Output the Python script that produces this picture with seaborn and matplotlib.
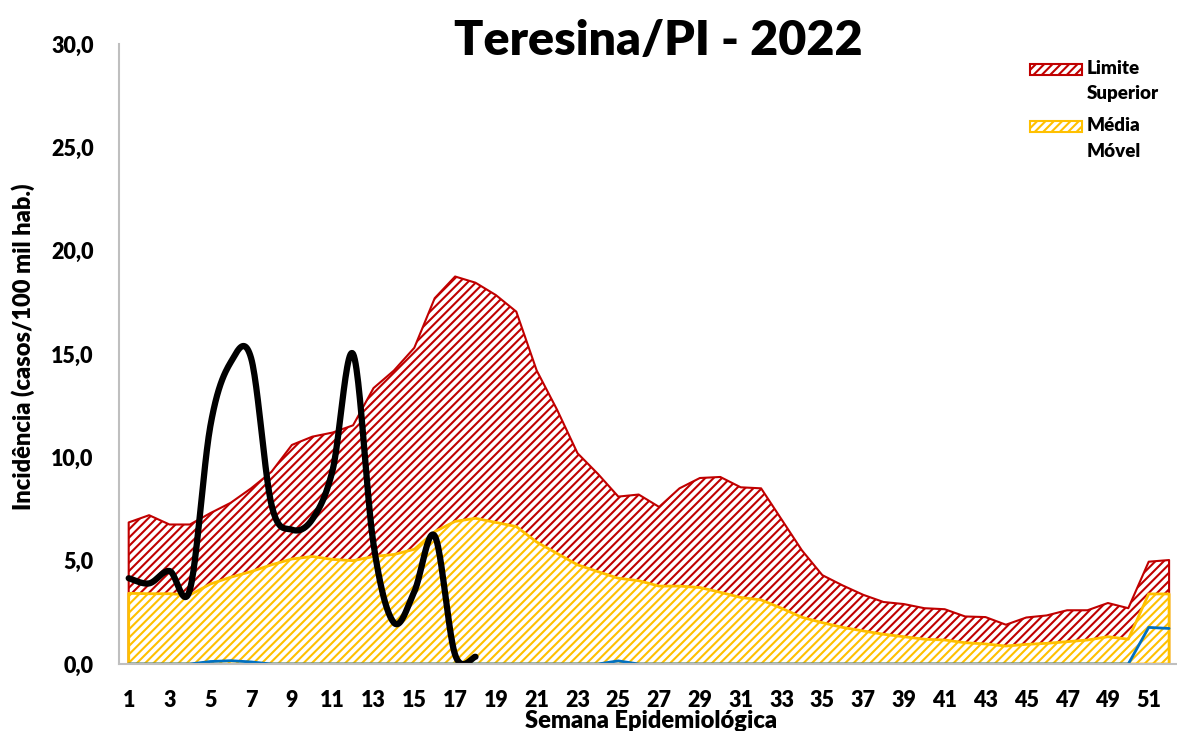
import numpy as np
import pandas as pd
import seaborn as sns
import matplotlib.pyplot as plt
from matplotlib.patches import Patch, Rectangle
from matplotlib.legend_handler import HandlerPatch

weeks = list(range(1, 53))
limite_superior = [6.85, 7.2, 6.75, 6.75, 7.3, 7.8, 8.5, 9.3, 10.6, 11.0,
                   11.2, 11.55, 13.35, 14.2, 15.3, 17.7, 18.75, 18.45, 17.85, 17.05,
                   14.2, 12.3, 10.2, 9.2, 8.1, 8.2, 7.6, 8.5, 9.0, 9.05,
                   8.55, 8.5, 7.0, 5.5, 4.3, 3.8, 3.35, 3.0, 2.9, 2.7,
                   2.65, 2.3, 2.27, 1.9, 2.25, 2.35, 2.6, 2.6, 2.95, 2.7,
                   4.95, 5.03]
media_movel = [3.42, 3.4, 3.4, 3.34, 3.87, 4.2, 4.47, 4.8, 5.08, 5.2,
               5.06, 5.0, 5.2, 5.3, 5.55, 6.4, 6.9, 7.05, 6.85, 6.65,
               5.9, 5.35, 4.8, 4.47, 4.15, 4.03, 3.77, 3.77, 3.7, 3.47,
               3.22, 3.1, 2.7, 2.26, 2.0, 1.77, 1.6, 1.44, 1.32, 1.2,
               1.16, 1.03, 0.97, 0.87, 0.95, 1.0, 1.08, 1.16, 1.32, 1.2,
               3.39, 3.39]
serie_azul = [0.0, 0.0, 0.0, 0.0, 0.12, 0.16, 0.1, 0.0, 0.0, 0.0,
              0.0, 0.0, 0.0, 0.0, 0.0, 0.0, 0.0, 0.0, 0.0, 0.0,
              0.0, 0.0, 0.0, 0.0, 0.15, 0.0, 0.0, 0.0, 0.0, 0.0,
              0.0, 0.0, 0.0, 0.0, 0.0, 0.0, 0.0, 0.0, 0.0, 0.0,
              0.0, 0.0, 0.0, 0.0, 0.0, 0.0, 0.0, 0.0, 0.0, 0.0,
              1.77, 1.72]
weeks_2022 = list(range(1, 19))
casos_2022 = [4.15, 3.9, 4.5, 3.6, 11.5, 14.6, 14.8, 7.7, 6.5, 7.0,
              9.4, 15.0, 5.8, 2.0, 3.5, 6.2, 0.45, 0.35]

ytick_vals = [0, 5, 10, 15, 20, 25, 30]
ytick_labels = ['0,0', '5,0', '10,0', '15,0', '20,0', '25,0', '30,0']
xtick_vals = list(range(1, 53, 2))

RED = '#C00000'
YELLOW = '#FFC000'
BLUE = '#0070C0'
GRAY = '#BFBFBF'


def smooth(x, y, n=24):
    # Excel-like smoothed line (Catmull-Rom bezier through the points)
    p = np.column_stack([x, y]).astype(float)
    out = []
    for i in range(len(p) - 1):
        p0 = p[max(i - 1, 0)]
        p1, p2 = p[i], p[i + 1]
        p3 = p[min(i + 2, len(p) - 1)]
        c1 = p1 + (p2 - p0) / 6
        c2 = p2 - (p3 - p1) / 6
        t = np.linspace(0, 1, n, endpoint=False)[:, None]
        seg = ((1 - t) ** 3) * p1 + 3 * ((1 - t) ** 2) * t * c1 + 3 * (1 - t) * t ** 2 * c2 + t ** 3 * p2
        out.append(seg)
    out.append(p[-1:])
    out = np.vstack(out)
    return pd.DataFrame({'x': out[:, 0], 'y': out[:, 1]})


sns.set_style('white')
plt.rcParams['font.family'] = ['Lato', 'DejaVu Sans']
plt.rcParams['font.weight'] = 'bold'
plt.rcParams['text.color'] = 'black'
plt.rcParams['axes.labelcolor'] = 'black'
plt.rcParams['hatch.linewidth'] = 1.5

fig = plt.figure(figsize=(11.77, 7.31), dpi=100)
ax = fig.add_axes([118.5 / 1177, 1 - 664 / 731, 1060.8 / 1177, 620 / 731])

ax.fill_between(weeks, 0, limite_superior, facecolor='white', edgecolor=RED,
                hatch='////', linewidth=1.5, zorder=1)
ax.fill_between(weeks, 0, media_movel, facecolor='white', edgecolor=YELLOW,
                hatch='////', linewidth=2, zorder=1.2)

sns.lineplot(x=weeks, y=serie_azul, sort=False, color=BLUE, linewidth=2,
             ax=ax, zorder=2)
black_df = smooth(weeks_2022, casos_2022)
sns.lineplot(data=black_df, x='x', y='y', sort=False, color='black', linewidth=4.5,
             ax=ax, zorder=3)

ax.set_xlim(0.5, 52.1)
ax.set_ylim(0, 30)
ax.set_yticks(ytick_vals)
ax.set_yticklabels(ytick_labels)
ax.set_xticks(xtick_vals)
ax.set_xticklabels([str(w) for w in xtick_vals])
ax.set_xticks(np.arange(0.5, 53, 1), minor=True)
ax.tick_params(axis='x', which='major', length=0, pad=19, labelsize=15.5,
               labelcolor='black')
ax.tick_params(axis='x', which='minor', length=8, width=1.2, color=GRAY, direction='out')
ax.tick_params(axis='y', which='major', length=8, width=1.2, color=GRAY, pad=10,
               labelsize=15.5, direction='out', labelcolor='black')
for lab in ax.get_xticklabels() + ax.get_yticklabels():
    lab.set_fontweight('heavy')

for s in ['top', 'right']:
    ax.spines[s].set_visible(False)
for s in ['left', 'bottom']:
    ax.spines[s].set_color(GRAY)
    ax.spines[s].set_linewidth(1.5)
    ax.spines[s].set_zorder(5)

ax.set_xlabel('Semana Epidemiológica', fontsize=17, fontweight='heavy')
ax.xaxis.set_label_coords(0.502, -0.074)
ax.set_ylabel('Incidência (casos/100 mil hab.)', fontsize=17, fontweight='heavy')
ax.yaxis.set_label_coords(-0.079, 0.511)

fig.text(658 / 1177, 1 - 55 / 731, 'Teresina/PI - 2022', ha='center', va='baseline',
         fontsize=34.8, fontweight='heavy')


def top_box(legend, orig_handle, xdescent, ydescent, width, height, fontsize):
    return Rectangle((-xdescent, 0.70 * fontsize), width, 0.59 * fontsize)


handles = [Patch(facecolor='white', edgecolor=RED, hatch='////', linewidth=1.5),
           Patch(facecolor='white', edgecolor=YELLOW, hatch='////', linewidth=1.5)]
leg = ax.legend(handles, ['Limite\nSuperior', 'Média\nMóvel'],
                loc='upper left', bbox_to_anchor=(1030 / 1177, 1 - 60 / 731),
                bbox_transform=fig.transFigure, frameon=False, fontsize=13.5,
                handlelength=2.77, handletextpad=0.27, labelspacing=0.8,
                borderpad=0, borderaxespad=0,
                handler_map={Patch: HandlerPatch(patch_func=top_box)})
for t in leg.get_texts():
    t.set_fontweight('heavy')
    t.set_linespacing(1.6)

fig.savefig('out.png', dpi=100)
